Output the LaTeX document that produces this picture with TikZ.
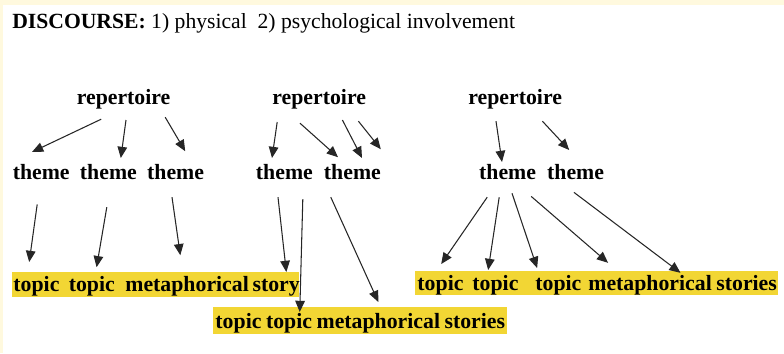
\documentclass[tikz,border=0pt]{standalone}
\usepackage{fontspec}
\setmainfont{Liberation Serif}
\usepackage{tikz}
\usetikzlibrary{arrows.meta,calc,positioning,fit,backgrounds}

\definecolor{paper}{RGB}{255,249,222}
\definecolor{marker}{RGB}{242,214,52}

\begin{document}
\begin{tikzpicture}[
    >={Triangle[length=2.8mm,width=2.4mm]},
    word/.style={font=\bfseries\fontsize{15.5}{18}\selectfont,inner sep=0pt},
    topicword/.style={word,anchor=base west},
    link/.style={draw=black!85,line width=0.75pt,->},
    highlight/.style={fill=marker}
]

\useasboundingbox (0,0) rectangle (19.6,-8.825);

% Title
\node[anchor=base west,inner sep=0pt,font=\fontsize{15.4}{18}\selectfont] (title) at (0.30,-0.70)
    {\textbf{DISCOURSE:} 1) physical\ \ 2) psychological involvement};

% Repertoires
\node[word,anchor=base] (rep1) at (3.09,-2.60) {repertoire};
\node[word,anchor=base] (rep2) at (7.98,-2.60) {repertoire};
\node[word,anchor=base] (rep3) at (12.88,-2.60) {repertoire};

% Themes
\node[word,anchor=base] (th1a) at (1.03,-4.48) {theme};
\node[word,anchor=base] (th1b) at (2.71,-4.48) {theme};
\node[word,anchor=base] (th1c) at (4.39,-4.48) {theme};
\node[word,anchor=base] (th2a) at (7.11,-4.48) {theme};
\node[word,anchor=base] (th2b) at (8.81,-4.48) {theme};
\node[word,anchor=base] (th3a) at (12.69,-4.48) {theme};
\node[word,anchor=base] (th3b) at (14.39,-4.48) {theme};

% Topics, first line
\node[topicword] (tp1a) at (0.33,-7.28) {topic};
\node[topicword,base right=0.22 of tp1a] (tp1b) {topic};
\node[topicword,base right=0.25 of tp1b] (tp1c) {metaphorical};
\node[topicword,base right=0.08 of tp1c] (tp1d) {story};

% Topics, second line
\node[topicword] (tp2a) at (5.38,-8.20) {topic};
\node[topicword,base right=0.10 of tp2a] (tp2b) {topic};
\node[topicword,base right=0.10 of tp2b] (tp2c) {metaphorical};
\node[topicword,base right=0.10 of tp2c] (tp2d) {stories};

% Topics, third line
\node[topicword] (tp3a) at (10.43,-7.25) {topic};
\node[topicword,base right=0.21 of tp3a] (tp3b) {topic};
\node[topicword,base right=0.41 of tp3b] (tp3c) {topic};
\node[topicword,base right=0.16 of tp3c] (tp3d) {metaphorical};
\node[topicword,base right=0.10 of tp3d] (tp3e) {stories};

% ===== Paper and marker =====
\begin{scope}[on background layer]
    \fill[paper] (0,0) rectangle (19.6,-8.825);
    \fill[white] (0.07,-0.12) rectangle (19.6,-8.825);

    \fill[highlight]
        ([shift={(-0.03,-0.15)}]tp1a.base west) rectangle ([shift={(-0.02,0.48)}]tp1d.base east);
    \fill[highlight]
        ([shift={(-0.05,-0.15)}]tp2a.base west) rectangle ([shift={(0.05,0.52)}]tp2d.base east);
    \fill[highlight]
        ([shift={(-0.05,-0.12)}]tp3a.base west) rectangle ([shift={(0.03,0.48)}]tp3e.base east);
\end{scope}

% ===== Repertoire -> theme =====
\draw[link] ([shift={(-0.56,-0.38)}]rep1.base) -- ([shift={(-0.23,0.68)}]th1a.base);
\draw[link] ([shift={(0.06,-0.40)}]rep1.base) -- ([shift={(0.31,0.53)}]th1b.base);
\draw[link] ([shift={(1.04,-0.33)}]rep1.base) -- ([shift={(0.24,0.70)}]th1c.base);

\draw[link] ([shift={(-1.05,-0.45)}]rep2.base) -- ([shift={(-0.31,0.53)}]th2a.base);
\draw[link] ([shift={(-0.48,-0.48)}]rep2.base) -- ([shift={(-0.36,0.55)}]th2b.base);
\draw[link] ([shift={(0.58,-0.40)}]rep2.base) -- ([shift={(0.24,0.53)}]th2b.base);
\draw[link] ([shift={(0.98,-0.43)}]rep2.base) -- ([shift={(0.71,0.75)}]th2b.base);

\draw[link] ([shift={(-0.48,-0.43)}]rep3.base) -- ([shift={(-0.14,0.43)}]th3a.base);
\draw[link] ([shift={(0.68,-0.43)}]rep3.base) -- ([shift={(-0.16,0.73)}]th3b.base);

% ===== Theme -> topic =====
\draw[link] ([shift={(-0.10,-0.63)}]th1a.base) -- ([shift={(0.40,0.73)}]tp1a.base west);
\draw[link] ([shift={(-0.04,-0.70)}]th1b.base) -- ([shift={(0.70,0.60)}]tp1b.base west);
\draw[link] ([shift={(-0.09,-0.45)}]th1c.base) -- ([shift={(1.38,0.90)}]tp1c.base west);

\draw[link] ([shift={(-0.16,-0.45)}]th2a.base) -- ([shift={(0.85,0.48)}]tp1d.base west);
\draw[link] ([shift={(0.46,-0.50)}]th2a.base) -- ([shift={(0.85,0.40)}]tp2b.base west);
\draw[link] ([shift={(-0.54,-0.45)}]th2b.base) -- ([shift={(1.55,0.65)}]tp2c.base west);

\draw[link] ([shift={(-0.51,-0.45)}]th3a.base) -- ([shift={(0.60,0.65)}]tp3a.base west);
\draw[link] ([shift={(-0.21,-0.45)}]th3a.base) -- ([shift={(0.40,0.50)}]tp3b.base west);
\draw[link] ([shift={(0.11,-0.35)}]th3a.base) -- ([shift={(0.05,0.55)}]tp3c.base west);
\draw[link] ([shift={(0.59,-0.43)}]th3a.base) -- ([shift={(0.50,0.68)}]tp3d.base west);
\draw[link] ([shift={(-0.04,-0.33)}]th3b.base) -- ([shift={(-0.89,0.43)}]tp3e.base west);

\end{tikzpicture}
\end{document}
